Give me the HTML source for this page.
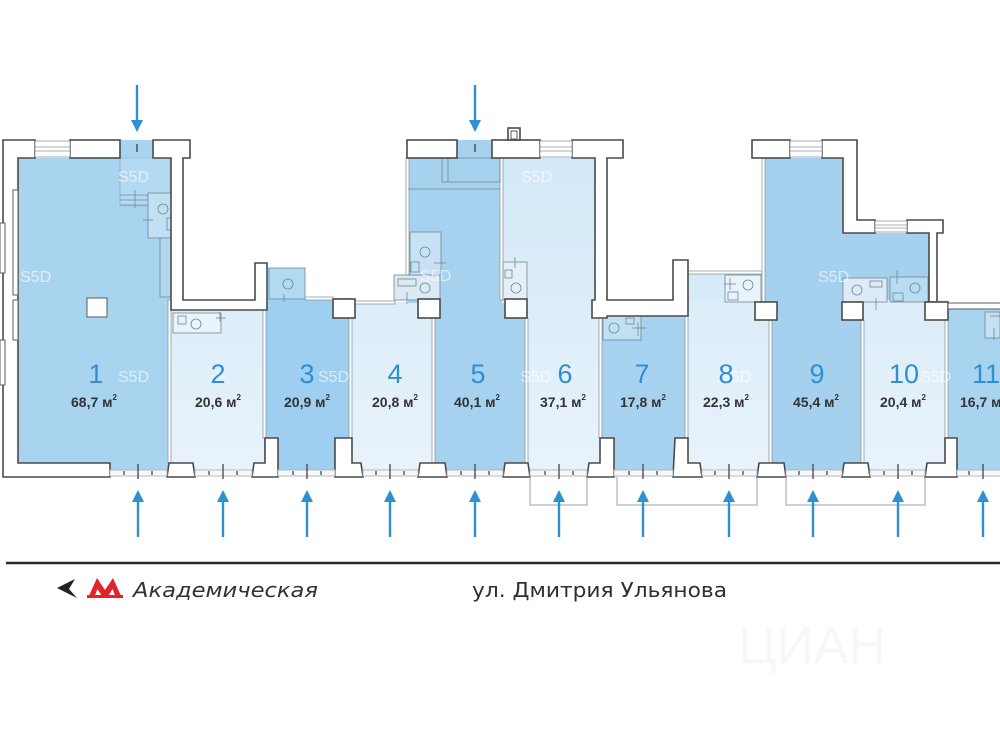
<!DOCTYPE html>
<html><head><meta charset="utf-8">
<style>
html,body{margin:0;padding:0;background:#fff;}
svg{display:block;}
</style></head><body>
<svg width="1000" height="750" viewBox="0 0 1000 750" xmlns="http://www.w3.org/2000/svg">
<defs>
<linearGradient id="lt" gradientUnits="userSpaceOnUse" x1="0" y1="158" x2="0" y2="470">
<stop offset="0" stop-color="#d3e8f7"/><stop offset="1" stop-color="#e8f3fb"/>
</linearGradient>
</defs>
<rect width="1000" height="750" fill="#fff"/>
<text x="738" y="663" font-family="Liberation Sans, sans-serif" font-size="52" fill="#f7f7f7">ЦИАН</text>

<!-- unit fills -->
<g>
<rect x="18" y="158" width="152" height="312" fill="#a9d4f0"/>
<rect x="120" y="140" width="33" height="18" fill="#a9d4f0"/>
<rect x="120" y="158" width="50" height="48" fill="#b4daf3" stroke="#8fb8d2" stroke-width="0.6"/>
<rect x="171" y="308" width="93" height="162" fill="url(#lt)"/>
<rect x="264" y="298" width="87" height="172" fill="#9fcff0"/>
<rect x="268" y="268" width="37" height="32" fill="#a6d3f1"/>
<rect x="350" y="302" width="84" height="168" fill="url(#lt)"/>
<rect x="408" y="158" width="95" height="145" fill="#a6d2ef"/>
<rect x="457" y="140" width="35" height="18" fill="#a6d2ef"/>
<rect x="433" y="300" width="93" height="170" fill="#a6d2ef"/>
<rect x="502" y="158" width="94" height="145" fill="url(#lt)"/>
<rect x="526" y="300" width="74" height="170" fill="url(#lt)"/>
<rect x="600" y="314" width="87" height="156" fill="#a8d3f0"/>
<rect x="687" y="273" width="76" height="30" fill="#d6eaf8"/>
<rect x="687" y="300" width="84" height="170" fill="url(#lt)"/>
<path d="M765,158 H843 V233 H929 V302 H765 Z" fill="#a5d1ef"/>
<rect x="770" y="300" width="93" height="170" fill="#a5d1ef"/>
<rect x="862" y="300" width="85" height="170" fill="url(#lt)"/>
<rect x="946" y="308" width="54" height="162" fill="#a8d4f0"/>
</g>

<!-- inner partitions -->
<g fill="#fff" stroke="#8d99a2" stroke-width="0.8">
<rect x="168" y="300" width="3" height="163"/>
<rect x="263" y="310" width="3" height="128"/>
<rect x="349" y="318" width="3" height="120"/>
<rect x="432" y="318" width="3" height="145"/>
<rect x="525" y="318" width="3" height="145"/>
<rect x="599" y="318" width="3" height="120"/>
<rect x="685" y="316" width="3" height="122"/>
<rect x="769" y="320" width="3" height="143"/>
<rect x="861" y="320" width="3" height="143"/>
<rect x="945" y="320" width="3" height="118"/>
<rect x="500" y="158" width="3" height="142"/>
<rect x="762" y="158" width="3" height="144"/>
<rect x="406" y="158" width="3" height="117"/>
<rect x="305" y="297" width="28" height="3"/>
<rect x="355" y="301" width="40" height="3"/>
<rect x="688" y="271" width="74" height="3"/>
</g>

<!-- interior details -->
<g fill="none" stroke="#6f8795" stroke-width="0.8">
<rect x="148" y="193" width="26" height="45" fill="#c2e0f4"/>
<circle cx="163" cy="209" r="5"/>
<rect x="167" y="218" width="6" height="12"/>
<rect x="160" y="238" width="14" height="59" fill="#b2d8f1"/>
<line x1="120" y1="195" x2="148" y2="195"/><line x1="120" y1="200" x2="148" y2="200"/><line x1="120" y1="205" x2="148" y2="205"/>
<line x1="135" y1="190" x2="135" y2="208"/>
<line x1="143" y1="220" x2="153" y2="220"/>
<line x1="120" y1="140" x2="120" y2="206" stroke="#9ab"/>
<line x1="137" y1="144" x2="137" y2="152" stroke="#333" stroke-width="1.2"/>
<rect x="173" y="313" width="48" height="20" fill="#e9f3fa"/>
<circle cx="196" cy="324" r="5"/>
<rect x="178" y="316" width="8" height="8"/>
<line x1="216" y1="318" x2="226" y2="318"/><line x1="220" y1="312" x2="220" y2="322"/>
<rect x="269" y="268" width="36" height="31" fill="#b1daf3"/>
<circle cx="288" cy="284" r="5"/>
<line x1="284" y1="294" x2="284" y2="302"/>
<rect x="394" y="275" width="46" height="25" fill="#dbe9f3"/>
<circle cx="425" cy="288" r="5"/>
<rect x="398" y="279" width="18" height="7"/>
<line x1="407" y1="292" x2="407" y2="304"/>
<rect x="410" y="232" width="31" height="43" fill="#c6e2f4"/>
<circle cx="425" cy="252" r="5"/>
<rect x="411" y="262" width="8" height="10"/>
<line x1="434" y1="263" x2="446" y2="263"/>
<rect x="442" y="158" width="58" height="24"/>
<line x1="448" y1="158" x2="448" y2="182"/>
<line x1="408" y1="189" x2="500" y2="189"/>
<line x1="475" y1="144" x2="475" y2="152" stroke="#333" stroke-width="1.2"/>
<rect x="503" y="262" width="24" height="38" fill="#e4f0f8"/>
<circle cx="516" cy="288" r="5"/>
<rect x="505" y="270" width="7" height="8"/>
<line x1="515" y1="257" x2="515" y2="268"/>
<rect x="603" y="316" width="38" height="24" fill="#c2e0f4"/>
<circle cx="614" cy="328" r="5"/>
<rect x="626" y="318" width="8" height="6"/>
<line x1="638" y1="322" x2="638" y2="336"/><line x1="632" y1="328" x2="646" y2="328"/>
<rect x="725" y="275" width="36" height="27" fill="#e9f3fa"/>
<circle cx="748" cy="285" r="5"/>
<rect x="728" y="292" width="10" height="8"/>
<line x1="724" y1="284" x2="736" y2="284"/><line x1="730" y1="278" x2="730" y2="290"/>
<rect x="843" y="278" width="44" height="24" fill="#dcebf6"/>
<circle cx="857" cy="290" r="5"/>
<rect x="870" y="281" width="12" height="6"/>
<line x1="876" y1="298" x2="876" y2="310"/>
<rect x="890" y="277" width="38" height="25" fill="#b8dcf3"/>
<circle cx="915" cy="288" r="5"/>
<rect x="893" y="293" width="10" height="8"/>
<line x1="897" y1="270" x2="897" y2="284"/>
<rect x="985" y="312" width="15" height="26" fill="#c4e1f4"/>
<line x1="990" y1="316" x2="1000" y2="316"/><line x1="994" y1="328" x2="994" y2="340"/>
</g>

<!-- walls -->
<g fill="#fff" stroke="#4a4a4a" stroke-width="1.6" stroke-linejoin="miter">
<path d="M3,140 H35 V158 H18 V463 H110 V477 H3 Z"/>
<rect x="70" y="140" width="50" height="18"/>
<path d="M153,140 H190 V158 H183 V300 H255 V263 H267 V310 H171 V158 H153 Z"/>
<rect x="333" y="299" width="22" height="19"/>
<rect x="418" y="299" width="22" height="19"/>
<rect x="407" y="140" width="50" height="18"/>
<rect x="492" y="140" width="48" height="18"/>
<rect x="508" y="128" width="12" height="12"/>
<path d="M572,140 H623 V158 H607 V300 H673 V260 H688 V316 H607 V318 H592 V300 H595 V158 H572 Z"/>
<rect x="505" y="299" width="22" height="19"/>
<rect x="752" y="140" width="38" height="18"/>
<path d="M822,140 H857 V220 H875 V233 H843 V158 H822 Z"/>
<path d="M907,220 H943 V233 H937 V302 H929 V233 H907 Z"/>
<rect x="755" y="302" width="22" height="18"/>
<rect x="842" y="302" width="21" height="18"/>
<rect x="925" y="302" width="23" height="18"/>
<polygon points="169,463 193,463 195,477 167,477"/>
<polygon points="265,438 278,438 278,477 252,477 254,463 265,463"/>
<polygon points="335,438 352,438 352,463 361,463 363,477 335,477"/>
<polygon points="420,463 445,463 447,477 418,477"/>
<polygon points="505,463 528,463 530,477 503,477"/>
<polygon points="600,438 614,438 614,477 587,477 589,463 600,463"/>
<polygon points="675,438 688,438 688,463 700,463 702,477 673,477"/>
<polygon points="759,463 784,463 786,477 757,477"/>
<polygon points="844,463 868,463 870,477 842,477"/>
<polygon points="945,438 957,438 957,477 925,477 927,463 945,463"/>
</g>
<g fill="#fff" stroke="#5a5a5a" stroke-width="1">
<rect x="948" y="303" width="53" height="6"/>
<rect x="511" y="131" width="6" height="8"/>
<rect x="0" y="223" width="5" height="50"/>
<rect x="0" y="340" width="5" height="45"/>
<rect x="13" y="190" width="5" height="105"/>
<rect x="13" y="300" width="5" height="40"/>
<rect x="87" y="298" width="20" height="19"/>
</g>
<g fill="#fff" stroke="#8e979d" stroke-width="0.8">
<rect x="35" y="141" width="35" height="16"/><line x1="35" y1="147" x2="70" y2="147"/><line x1="35" y1="151" x2="70" y2="151"/>
<rect x="540" y="141" width="32" height="16"/><line x1="540" y1="147" x2="572" y2="147"/><line x1="540" y1="151" x2="572" y2="151"/>
<rect x="790" y="141" width="32" height="16"/><line x1="790" y1="147" x2="822" y2="147"/><line x1="790" y1="151" x2="822" y2="151"/>
<rect x="875" y="221" width="32" height="11"/><line x1="875" y1="225" x2="907" y2="225"/><line x1="875" y1="228" x2="907" y2="228"/>
</g>

<!-- bottom openings -->
<g stroke="#aab3b9" stroke-width="0.9" fill="#f6f8fa">
<rect x="110" y="470" width="57" height="6"/>
<rect x="195" y="470" width="57" height="6"/>
<rect x="278" y="470" width="57" height="6"/>
<rect x="363" y="470" width="55" height="6"/>
<rect x="447" y="470" width="56" height="6"/>
<rect x="530" y="470" width="57" height="6"/>
<rect x="614" y="470" width="59" height="6"/>
<rect x="702" y="470" width="55" height="6"/>
<rect x="786" y="470" width="56" height="6"/>
<rect x="870" y="470" width="55" height="6"/>
<rect x="957" y="470" width="44" height="6"/>
</g>
<g stroke="#444" stroke-width="1.3">
<line x1="138" y1="464" x2="138" y2="479"/><line x1="124" y1="471" x2="124" y2="475"/><line x1="152" y1="471" x2="152" y2="475"/>
<line x1="223" y1="464" x2="223" y2="479"/><line x1="209" y1="471" x2="209" y2="475"/><line x1="237" y1="471" x2="237" y2="475"/>
<line x1="307" y1="464" x2="307" y2="479"/><line x1="293" y1="471" x2="293" y2="475"/><line x1="321" y1="471" x2="321" y2="475"/>
<line x1="390" y1="464" x2="390" y2="479"/><line x1="376" y1="471" x2="376" y2="475"/><line x1="404" y1="471" x2="404" y2="475"/>
<line x1="475" y1="464" x2="475" y2="479"/><line x1="461" y1="471" x2="461" y2="475"/><line x1="489" y1="471" x2="489" y2="475"/>
<line x1="559" y1="464" x2="559" y2="479"/><line x1="545" y1="471" x2="545" y2="475"/><line x1="573" y1="471" x2="573" y2="475"/>
<line x1="643" y1="464" x2="643" y2="479"/><line x1="629" y1="471" x2="629" y2="475"/><line x1="657" y1="471" x2="657" y2="475"/>
<line x1="729" y1="464" x2="729" y2="479"/><line x1="715" y1="471" x2="715" y2="475"/><line x1="743" y1="471" x2="743" y2="475"/>
<line x1="813" y1="464" x2="813" y2="479"/><line x1="799" y1="471" x2="799" y2="475"/><line x1="827" y1="471" x2="827" y2="475"/>
<line x1="898" y1="464" x2="898" y2="479"/><line x1="884" y1="471" x2="884" y2="475"/><line x1="912" y1="471" x2="912" y2="475"/>
<line x1="983" y1="464" x2="983" y2="479"/><line x1="969" y1="471" x2="969" y2="475"/>
</g>
<g fill="none" stroke="#9aa3a9" stroke-width="1">
<polyline points="530,477 530,505 587,505 587,477"/>
<polyline points="617,477 617,505 757,505 757,477"/>
<polyline points="786,477 786,505 925,505 925,477"/>
</g>

<!-- arrows -->
<g stroke="#2e90d1" stroke-width="2.4" fill="#2e90d1">
<line x1="137" y1="85" x2="137" y2="121"/><polygon points="131,120 143,120 137,132" stroke="none"/>
<line x1="475" y1="85" x2="475" y2="121"/><polygon points="469,120 481,120 475,132" stroke="none"/>
<line x1="138" y1="500" x2="138" y2="537"/><polygon points="132,502 144,502 138,490" stroke="none"/>
<line x1="223" y1="500" x2="223" y2="537"/><polygon points="217,502 229,502 223,490" stroke="none"/>
<line x1="307" y1="500" x2="307" y2="537"/><polygon points="301,502 313,502 307,490" stroke="none"/>
<line x1="390" y1="500" x2="390" y2="537"/><polygon points="384,502 396,502 390,490" stroke="none"/>
<line x1="475" y1="500" x2="475" y2="537"/><polygon points="469,502 481,502 475,490" stroke="none"/>
<line x1="559" y1="500" x2="559" y2="537"/><polygon points="553,502 565,502 559,490" stroke="none"/>
<line x1="643" y1="500" x2="643" y2="537"/><polygon points="637,502 649,502 643,490" stroke="none"/>
<line x1="729" y1="500" x2="729" y2="537"/><polygon points="723,502 735,502 729,490" stroke="none"/>
<line x1="813" y1="500" x2="813" y2="537"/><polygon points="807,502 819,502 813,490" stroke="none"/>
<line x1="898" y1="500" x2="898" y2="537"/><polygon points="892,502 904,502 898,490" stroke="none"/>
<line x1="983" y1="500" x2="983" y2="537"/><polygon points="977,502 989,502 983,490" stroke="none"/>
</g>

<g font-family="Liberation Sans, sans-serif" font-size="16" fill="#ffffff" fill-opacity="0.6">
<text x="118" y="182">S5D</text>
<text x="20" y="282">S5D</text>
<text x="118" y="382">S5D</text>
<text x="318" y="382">S5D</text>
<text x="420" y="281">S5D</text>
<text x="520" y="382">S5D</text>
<text x="521" y="182">S5D</text>
<text x="818" y="282">S5D</text>
<text x="720" y="382">S5D</text>
<text x="920" y="382">S5D</text>
</g>

<g font-family="Liberation Sans, sans-serif" font-size="27" fill="#2f8fd3" text-anchor="middle">
<text x="96" y="383">1</text>
<text x="218" y="383">2</text>
<text x="307" y="383">3</text>
<text x="395" y="383">4</text>
<text x="478" y="383">5</text>
<text x="565" y="383">6</text>
<text x="642" y="383">7</text>
<text x="726" y="383">8</text>
<text x="817" y="383">9</text>
<text x="904" y="383">10</text>
<text x="986" y="383">11</text>
</g>
<g font-family="Liberation Sans, sans-serif" font-size="14" font-weight="bold" fill="#333" text-anchor="middle">
<text x="94" y="407">68,7 м<tspan font-size="8" dy="-7">2</tspan></text>
<text x="218" y="407">20,6 м<tspan font-size="8" dy="-7">2</tspan></text>
<text x="307" y="407">20,9 м<tspan font-size="8" dy="-7">2</tspan></text>
<text x="395" y="407">20,8 м<tspan font-size="8" dy="-7">2</tspan></text>
<text x="477" y="407">40,1 м<tspan font-size="8" dy="-7">2</tspan></text>
<text x="563" y="407">37,1 м<tspan font-size="8" dy="-7">2</tspan></text>
<text x="643" y="407">17,8 м<tspan font-size="8" dy="-7">2</tspan></text>
<text x="726" y="407">22,3 м<tspan font-size="8" dy="-7">2</tspan></text>
<text x="816" y="407">45,4 м<tspan font-size="8" dy="-7">2</tspan></text>
<text x="903" y="407">20,4 м<tspan font-size="8" dy="-7">2</tspan></text>
<text x="960" y="407" text-anchor="start">16,7 м<tspan font-size="8" dy="-7">2</tspan></text>
</g>

<line x1="6" y1="563" x2="1000" y2="563" stroke="#2b2b2b" stroke-width="2.6"/>
<polygon points="57,588 75,579 69,589 77,598" fill="#222"/>
<polygon points="88,598 97,578 105,590 113,578 122,598 116,598 112.5,589 107,598 103,598 97.5,589 94,598" fill="#e0262a"/>
<rect x="87" y="595" width="36" height="3" fill="#e0262a"/>
<text x="133" y="597" font-family="DejaVu Sans, Liberation Sans, sans-serif" font-style="italic" font-size="20" fill="#333" textLength="185" lengthAdjust="spacingAndGlyphs">Академическая</text>
<text x="472" y="597" font-family="DejaVu Sans, Liberation Sans, sans-serif" font-size="20" fill="#2f2f2f" textLength="255" lengthAdjust="spacingAndGlyphs">ул. Дмитрия Ульянова</text>
</svg>
</body></html>
